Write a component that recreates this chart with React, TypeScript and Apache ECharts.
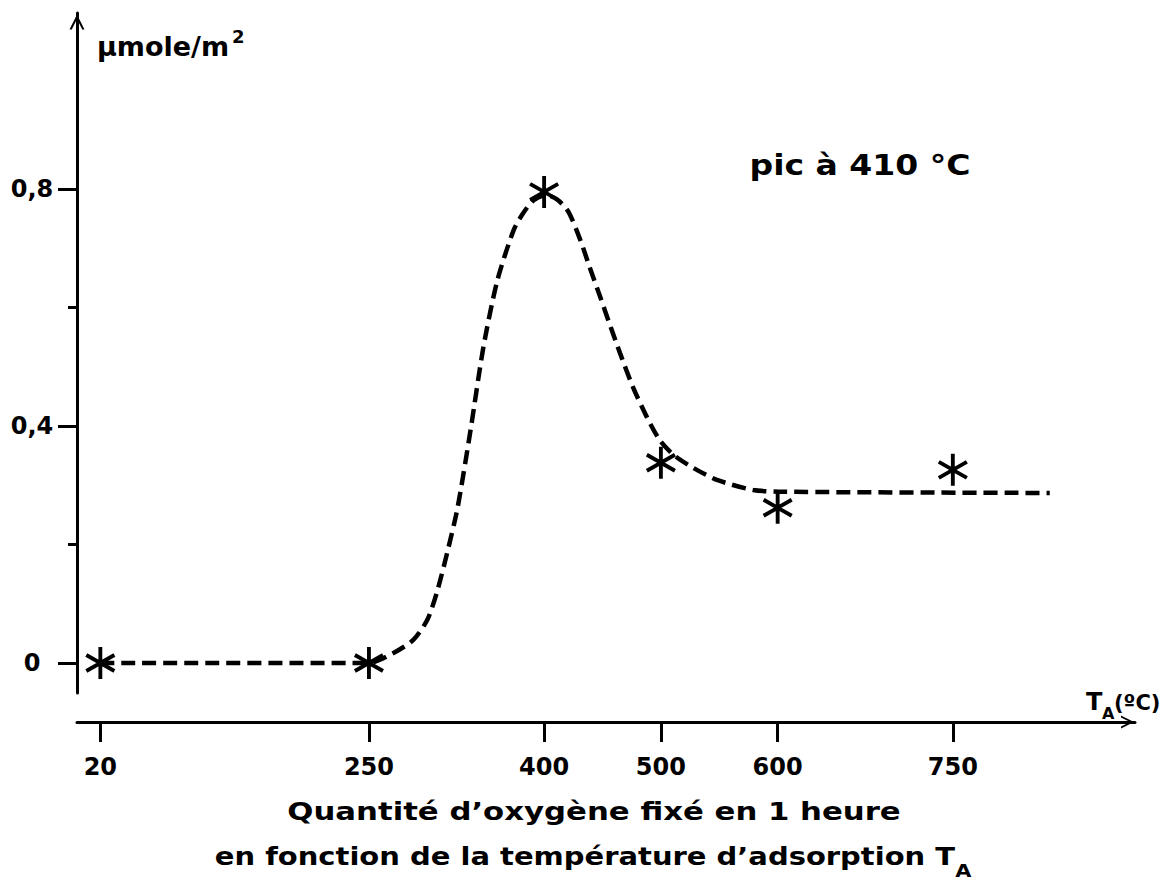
import React, { useEffect, useRef } from "react";
import * as echarts from "echarts";

// Observed points (temperature °C, µmole/m²)
const OBS_T = [20, 250, 400, 500, 600, 750];
const OBS_V = [0, 0, 0.795, 0.338, 0.262, 0.326];

// Hand-drawn dashed curve
const CURVE_T = [20, 250, 271, 288, 300, 308, 317, 326, 337, 348, 360, 374, 382, 391, 402, 412, 421, 431, 439, 448, 457, 465, 476, 488, 499, 511, 528, 548, 579, 605, 833];
const CURVE_V = [0, 0, 0.017, 0.039, 0.073, 0.118, 0.186, 0.263, 0.393, 0.533, 0.646, 0.731, 0.759, 0.781, 0.79, 0.781, 0.761, 0.714, 0.668, 0.618, 0.567, 0.523, 0.466, 0.415, 0.376, 0.351, 0.329, 0.309, 0.292, 0.289, 0.287];

const X_TICKS = [20, 250, 400, 500, 600, 750];
const Y_MAJOR = [0, 0.4, 0.8];
const Y_MINOR = [0.2, 0.6];

const FONT = "'DejaVu Sans', sans-serif";
const CHEVRON = "path://M0,20 L10,0 L20,20 L17,20 L10,6 L3,20 Z";
const STAR =
  "path://M-1.9,16 L1.9,16 L1.9,-16 L-1.9,-16 Z M12.91,9.65 L14.81,6.35 L-12.91,-9.65 L-14.81,-6.35 Z M14.81,-6.35 L12.91,-9.65 L-14.81,6.35 L-12.91,9.65 Z";

export default function App() {
  const ref = useRef<HTMLDivElement>(null);
  useEffect(() => {
    if (!ref.current) return;
    const chart = echarts.init(ref.current, null, { renderer: "svg" });
    const axisLine = { color: "#000", width: 3 };
    const txt = (text: string, x: number, y: number, size: number, align = "left", scaleX = 1) => ({
      type: "text",
      x,
      y,
      scaleX,
      silent: true,
      style: { text, fontSize: size, fontWeight: "bold", fontFamily: FONT, fill: "#000", align, verticalAlign: "middle" },
    });
    chart.setOption({
      animation: false,
      backgroundColor: "#fff",
      grid: { left: 77, right: 30, top: 13, bottom: 190, containLabel: false },
      xAxis: {
        type: "value",
        min: 0,
        max: 906,
        offset: 29,
        axisLine: { show: true, onZero: false, lineStyle: axisLine, symbol: ["none", CHEVRON], symbolSize: [13, 15], symbolOffset: [0, -7.5] },
        axisTick: { show: true, customValues: X_TICKS, length: 20, lineStyle: axisLine },
        axisLabel: { customValues: X_TICKS, margin: 33, fontSize: 24, fontWeight: "bold", fontFamily: FONT, color: "#000" },
        splitLine: { show: false },
      },
      yAxis: [
        {
          type: "value",
          min: -0.0506,
          max: 1.097,
          axisLine: { show: true, onZero: false, lineStyle: axisLine, symbol: ["none", CHEVRON], symbolSize: [15, 18], symbolOffset: [0, -9] },
          axisTick: { show: true, customValues: Y_MAJOR, length: 19, lineStyle: axisLine },
          axisLabel: {
            customValues: Y_MAJOR,
            formatter: (v: number) => String(v).replace(".", ","),
            align: "center",
            margin: 45,
            fontSize: 24,
            fontWeight: "bold",
            fontFamily: FONT,
            color: "#000",
          },
          splitLine: { show: false },
        },
        {
          type: "value",
          min: -0.0506,
          max: 1.097,
          position: "left",
          axisLine: { show: false, onZero: false },
          axisTick: { show: true, customValues: Y_MINOR, length: 9, lineStyle: axisLine },
          axisLabel: { show: false },
          splitLine: { show: false },
        },
      ],
      series: [
        {
          type: "line",
          data: CURVE_T.map((t, i) => [t, CURVE_V[i]]),
          showSymbol: false,
          smooth: 0.25,
          lineStyle: { color: "#000", width: 4.5, type: [14, 7] },
          z: 2,
        },
        {
          type: "scatter",
          data: OBS_T.map((t, i) => [t, OBS_V[i]]),
          symbol: STAR,
          symbolSize: [30, 32],
          itemStyle: { color: "#000", opacity: 1 },
          z: 3,
        },
      ],
      graphic: [
        txt("µmole/m", 97, 46, 27),
        txt("2", 232, 36, 18),
        txt("pic à 410 °C", 860, 165, 28, "center", 1.18),
        txt("T", 1086, 702, 24),
        txt("A", 1102, 713, 16),
        txt("(ºC)", 1114, 703, 21),
        txt("Quantité d’oxygène fixé en 1 heure", 594, 812, 25, "center", 1.23),
        {
          type: "text",
          x: 593,
          y: 856,
          scaleX: 1.16,
          silent: true,
          style: {
            text: "{m|en fonction de la température d’adsorption T}{s|A}",
            align: "center",
            verticalAlign: "middle",
            fontFamily: FONT,
            fontWeight: "bold",
            fill: "#000",
            rich: {
              m: { fontSize: 25, lineHeight: 48, fontFamily: FONT, fontWeight: "bold", fill: "#000", verticalAlign: "middle" },
              s: { fontSize: 18, lineHeight: 20, fontFamily: FONT, fontWeight: "bold", fill: "#000", verticalAlign: "bottom" },
            },
          },
        },
      ],
    });
    return () => chart.dispose();
  }, []);
  return (
    <div
      ref={ref}
      style={{ position: "absolute", left: 0, top: 0, width: 1165, height: 883, background: "#fff" }}
    />
  );
}
